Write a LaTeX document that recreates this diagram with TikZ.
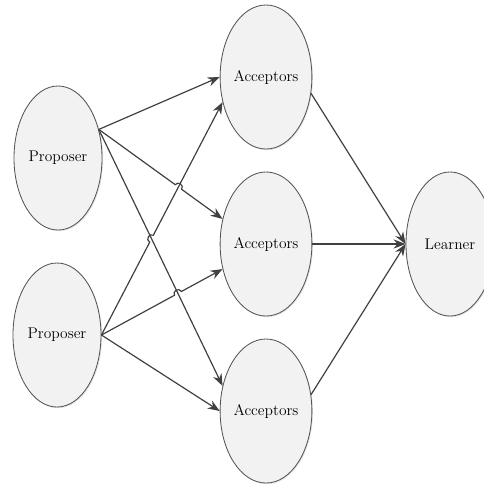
\documentclass[tikz,border=0pt]{standalone}
\usetikzlibrary{shapes.geometric,arrows.meta,calc,intersections,shadows}
\definecolor{lignegris}{HTML}{404040}
\definecolor{bordgris}{HTML}{555555}
\definecolor{fondgris}{HTML}{F2F2F2}

\begin{document}
\begin{tikzpicture}[x=0.025cm, y=-0.025cm]
\tikzset{noeud/.style={draw=bordgris, fill=fondgris, ellipse, inner sep=0pt,
    minimum width=2.2cm, minimum height=3.6cm, line width=0.6pt,
    font=\fontsize{11}{13}\selectfont,
    drop shadow={opacity=0.2, shadow xshift=0.8pt, shadow yshift=-0.8pt}},
  fleche/.style={draw=lignegris, line width=0.85pt, -{Stealth[length=3mm, width=2.3mm]}},
  saut/.style={bend left=90, looseness=1.6}}
\useasboundingbox (0, 0) rectangle (484, 483);
\node[noeud] (P1) at (58, 158) {Proposer};
\node[noeud] (P2) at (57, 335) {Proposer};
\node[noeud] (A1) at (266, 77) {Acceptors};
\node[noeud] (A2) at (266, 244) {Acceptors};
\node[noeud] (A3) at (266, 411) {Acceptors};
\node[noeud] (L) at (450, 244) {Learner};
% crossings
\path[name path=l12] (P1.35) -- (A2.150);
\path[name path=l21] (P2.east) -- (A1.210);
\path[name path=l13] (P1.35) -- (A3.150);
\path[name path=l22] (P2.east) -- (A2.210);
\path[name intersections={of=l12 and l21, by=h1}];
\path[name intersections={of=l21 and l13, by=h2}];
\path[name intersections={of=l22 and l13, by=h3}];
% proposer -> acceptors
\draw[fleche] (P1.35) -- (A1.west);
\draw[fleche] (P1.35) -- ($(h1)!2.8pt!(P1.35)$) to[saut] ($(h1)!2.8pt!(A2.150)$) -- (A2.150);
\draw[fleche] (P1.35) -- (A3.150);
\draw[fleche] (P2.east) -- ($(h2)!2.8pt!(P2.east)$) to[saut] ($(h2)!2.8pt!(A1.210)$) -- (A1.210);
\draw[fleche] (P2.east) -- ($(h3)!2.8pt!(P2.east)$) to[saut] ($(h3)!2.8pt!(A2.210)$) -- (A2.210);
\draw[fleche] (P2.east) -- (A3.west);
% acceptors -> learner
\draw[fleche] (A1.-20) -- (L.west);
\draw[fleche] (A2.east) -- (L.west);
\draw[fleche] (A3.20) -- (L.west);
\end{tikzpicture}
\end{document}
